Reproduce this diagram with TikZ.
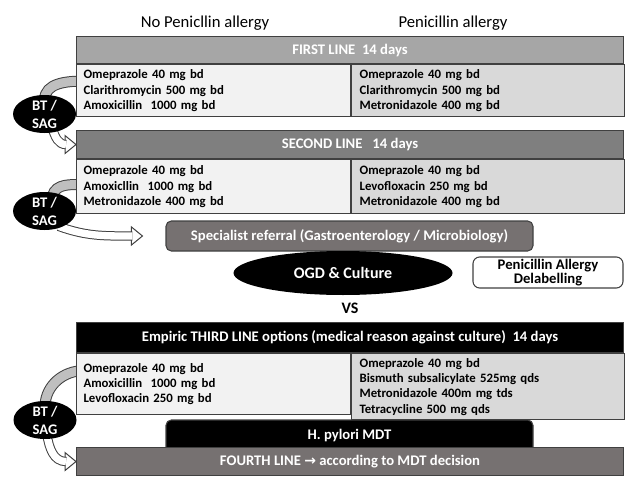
\documentclass[tikz,border=0pt]{standalone}
\usepackage{fontspec}
\setmainfont{Carlito}
\newfontfamily\arrowfont{DejaVu Sans}
\usetikzlibrary{shapes.geometric, arrows.meta, positioning, backgrounds, calc}
\definecolor{edge}{HTML}{404040}
\definecolor{barlight}{HTML}{A6A6A6}
\definecolor{bardark}{HTML}{7F7F7F}
\definecolor{barbrown}{HTML}{767171}
\definecolor{cellpale}{HTML}{F2F2F2}
\definecolor{cellgray}{HTML}{D9D9D9}
\definecolor{bandgray}{HTML}{BFBFBF}
\tikzset{
  bar/.style   ={rectangle, draw=edge, line width=0.8pt, anchor=north west,
                 minimum width=410.25pt, inner sep=0pt, text=white,
                 font=\fontsize{11}{13}\selectfont\bfseries},
  cellL/.style ={rectangle, draw=edge, line width=0.8pt, fill=cellpale, anchor=north west,
                 text width=195pt, inner xsep=5.25pt, align=left,
                 font=\fontsize{9.6}{11.5}\selectfont\bfseries},
  cellR/.style ={cellL, fill=cellgray, text width=192.75pt, inner xsep=6pt},
  box/.style   ={rectangle, rounded corners=4pt, draw=edge, line width=0.8pt,
                 minimum width=275.25pt, inner sep=0pt, text=white,
                 font=\fontsize{11}{13}\selectfont\bfseries},
  btsag/.style ={ellipse, fill=black, text=white, inner sep=-1pt, align=center,
                 minimum width=47.25pt, minimum height=28.5pt,
                 font=\fontsize{11}{13.5}\selectfont\bfseries},
  band/.style  ={draw=edge, line width=0.75pt, double=bandgray, double distance=6.75pt},
  shaft/.style ={draw=edge, line width=0.75pt, double=white, double distance=5.5pt},
  head/.style  ={draw=edge, line width=0.75pt, fill=white, line join=miter},
}
\begin{document}
\begin{tikzpicture}[x=0.75pt, y=0.75pt]
  \useasboundingbox (0,0) rectangle (642,-503);

  \node[font=\fontsize{12.5}{15}\selectfont] (nopen) at (205,-23) {No Penicllin allergy};
  \node[font=\fontsize{12.5}{15}\selectfont] (pen)   at (453,-23) {Penicillin allergy};

  \node[bar, fill=barlight, minimum height=20.25pt] (first) at (76,-36) {FIRST LINE\ \ 14 days};
  \node[cellL, minimum height=39pt] (firstL) at (first.south west)
    {Omeprazole 40 mg bd\\Clarithromycin 500 mg bd\\Amoxicillin\ \ 1000 mg bd};
  \node[cellR, minimum height=39pt] (firstR) at (firstL.north east)
    {Omeprazole 40 mg bd\\Clarithromycin 500 mg bd\\Metronidazole 400 mg bd};

  \node[bar, fill=bardark, minimum height=21pt] (second) at (76,-130) {SECOND LINE\ \ \ 14 days};
  \node[cellL, minimum height=40.5pt] (secondL) at (second.south west)
    {Omeprazole 40 mg bd\\Amoxicllin\ \ 1000 mg bd\\Metronidazole 400 mg bd};
  \node[cellR, minimum height=40.5pt] (secondR) at (secondL.north east)
    {Omeprazole 40 mg bd\\Levofloxacin 250 mg bd\\Metronidazole 400 mg bd};

  \node[box, fill=barbrown, minimum height=22.5pt] (spec) at (349.5,-236)
    {Specialist referral (Gastroenterology / Microbiology)};
  \node[ellipse, fill=black, text=white, minimum width=164.25pt, minimum height=33pt,
        font=\fontsize{12}{14}\selectfont\bfseries] (ogd) at (343,-273) {OGD \& Culture};
  \node[box, rounded corners=5pt, fill=white, text=black, minimum width=112.5pt,
        minimum height=23.25pt, align=center, font=\fontsize{11}{10}\selectfont\bfseries]
    (delab) at (548,-272.5) {Penicillin Allergy\\Delabelling};
  \node[font=\fontsize{12}{14}\selectfont\bfseries] (vs) at (350,-308) {VS};

  \node[bar, fill=black, minimum height=22.5pt] (third) at (76,-322)
    {Empiric THIRD LINE options (medical reason against culture)\ \ 14 days};
  \node[cellL, minimum height=45.75pt] (thirdL) at (third.south west)
    {Omeprazole 40 mg bd\\Amoxicillin\ \ 1000 mg bd\\Levofloxacin 250 mg bd};
  \node[cellR, minimum height=45.75pt] (thirdR) at (thirdL.north east)
    {Omeprazole 40 mg bd\\Bismuth subsalicylate 525mg\ qds\\Metronidazole 400m mg\ tds\\Tetracycline 500 mg qds};

  \node[box, fill=black, minimum height=24pt] (mdt) at (349.5,-436) {H. pylori MDT};
  \node[bar, fill=barbrown, minimum height=21pt] (fourth) at (76,-447)
    {FOURTH LINE {\arrowfont\fontsize{10.5}{13}\selectfont\bfseries →} according to MDT decision};

  \node[btsag] (bt1) at (44.5,-114) {BT /\\SAG};
  \node[btsag] (bt2) at (44.5,-211) {BT /\\SAG};
  \node[btsag] (bt3) at (45,-420)   {BT /\\SAG};

  \coordinate (specin) at ($(spec.west)+(-23,0)$);

  \begin{scope}[on background layer]
    \draw[band] ($(bt1.north)+(0,-5)$) to[out=88, in=180] ($(firstL.west)+(8,9.5)$);
    \draw[band] ($(bt2.north)+(8,-4)$) to[out=75, in=180] ($(secondL.west)+(8,2)$);
    \draw[band] ($(bt3.north)+(0,-5)$) to[out=88, in=180] ($(thirdL.west)+(8,13.5)$);

    \draw[head] ($(second.west)+(-11,9)$) -- (second.west) -- ($(second.west)+(-11,-9)$) -- cycle;
    \draw[shaft] ($(bt1.south)+(8,4)$) to[out=-70, in=180] ($(second.west)+(-10,0)$);
    \draw[head] ($(specin)+(-11,9)$) -- (specin) -- ($(specin)+(-11,-9)$) -- cycle;
    \draw[shaft] ($(bt2.south)+(14,4)$) to[out=-20, in=180] ($(specin)+(-10,0)$);
    \draw[head] ($(fourth.west)+(-11,9)$) -- (fourth.west) -- ($(fourth.west)+(-11,-9)$) -- cycle;
    \draw[shaft] ($(bt3.south)+(2,4)$) to[out=-80, in=180] ($(fourth.west)+(-10,0)$);
  \end{scope}

\end{tikzpicture}
\end{document}
